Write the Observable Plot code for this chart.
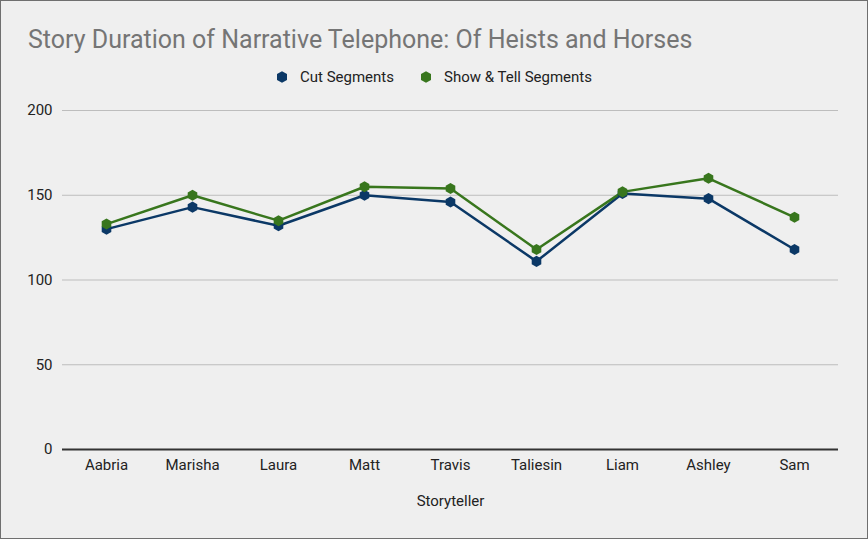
<!DOCTYPE html>
<html>
<head>
<meta charset="utf-8">
<script src="https://cdn.jsdelivr.net/npm/d3@7"></script>
<script src="https://cdn.jsdelivr.net/npm/@observablehq/plot@0.6"></script>
<style>
  html, body { margin: 0; padding: 0; background: #efefef; }
  #wrap { position: relative; width: 868px; height: 539px; background: #efefef; font-family: Roboto, sans-serif; overflow: hidden; }
  #frame { position: absolute; left: 0; top: 0; width: 866px; height: 537px; border: 1px solid #6f6f6f; pointer-events: none; }
  #title { position: absolute; left: 28px; top: 25px; font-size: 25px; color: #757575; white-space: nowrap; }
  #legend { position: absolute; left: 0; width: 868px; top: 68px; text-align: center; font-size: 15px; color: #222; }
  #legend span.item { display: inline-flex; align-items: center; margin: 0 13px; }
  #legend svg { margin-right: 12px; }
  #chart { position: absolute; left: 0; top: 90px; }
</style>
</head>
<body>
<div id="wrap">
  <div id="title"></div>
  <div id="legend"></div>
  <div id="chart"></div>
  <div id="frame"></div>
</div>
<script>
const titleText = "Story Duration of Narrative Telephone: Of Heists and Horses";
const storytellers = ["Aabria", "Marisha", "Laura", "Matt", "Travis", "Taliesin", "Liam", "Ashley", "Sam"];
const seriesNames = ["Cut Segments", "Show & Tell Segments"];
const cutSegments = [130, 143, 132, 150, 146, 111, 151, 148, 118];
const showTellSegments = [133, 150, 135, 155, 154, 118, 152, 160, 137];
const yTicks = [0, 50, 100, 150, 200];
const colors = ["#0b3866", "#38761d"];
const xLabel = "Storyteller";

document.getElementById("title").textContent = titleText;

const legend = document.getElementById("legend");
seriesNames.forEach((name, i) => {
  const item = document.createElement("span");
  item.className = "item";
  const s = 5, ry = s * 2 / Math.sqrt(3), hy = ry / 2;
  item.innerHTML = `<svg width="12" height="14" viewBox="-6 -7 12 14"><path d="M0,${ry}L${s},${hy}L${s},${-hy}L0,${-ry}L${-s},${-hy}L${-s},${hy}Z" fill="${colors[i]}"/></svg>`;
  const t = document.createElement("span");
  t.textContent = name;
  item.appendChild(t);
  legend.appendChild(item);
});

const data = [];
storytellers.forEach((s, i) => {
  data.push({ storyteller: s, series: seriesNames[0], value: cutSegments[i] });
  data.push({ storyteller: s, series: seriesNames[1], value: showTellSegments[i] });
});

const chart = Plot.plot({
  width: 868,
  height: 440,
  marginLeft: 62,
  marginRight: 30,
  marginTop: 20,
  marginBottom: 81,
  style: { background: "transparent", fontFamily: "Roboto, sans-serif", fontSize: "15px", color: "#222" },
  x: { type: "point", domain: storytellers, padding: 0.5 },
  y: { domain: [0, 200] },
  color: { domain: seriesNames, range: colors },
  marks: [
    Plot.ruleY(yTicks.filter(d => d > 0), { stroke: "#bdbdbd", strokeWidth: 1 }),
    Plot.ruleY([0], { stroke: "#333", strokeWidth: 2 }),
    Plot.axisY({ ticks: yTicks, tickSize: 0, tickPadding: 10, label: null, fontSize: 15, fill: "#222" }),
    Plot.axisX({ tickSize: 0, tickPadding: 10, label: xLabel, labelAnchor: "center", labelOffset: 56, fontSize: 15, fill: "#222" }),
    Plot.line(data, { x: "storyteller", y: "value", z: "series", stroke: "series", strokeWidth: 2.5 }),
    Plot.dot(data, { x: "storyteller", y: "value", fill: "series", symbol: "hexagon", r: 4.8 })
  ]
});
document.getElementById("chart").appendChild(chart);
</script>
</body>
</html>
